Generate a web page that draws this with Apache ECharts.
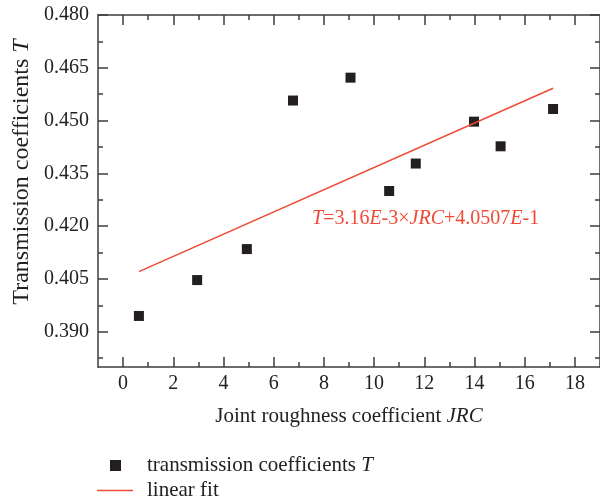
<!DOCTYPE html>
<html>
<head>
<meta charset="utf-8">
<script src="https://cdn.jsdelivr.net/npm/echarts@6/dist/echarts.min.js"></script>
<style>
  html, body { margin: 0; padding: 0; background: #fff; }
  #chart { width: 600px; height: 502px; }
</style>
</head>
<body>
<div id="chart"></div>
<script>
// measured points (JRC, T)
var jrc = [0.63, 2.95, 4.93, 6.77, 9.06, 10.6, 11.66, 13.98, 15.04, 17.13];
var trans = [0.3945, 0.4047, 0.4135, 0.4557, 0.4622, 0.4300, 0.4378, 0.4497, 0.4427, 0.4533];
// fit line end points
var fitX = [0.63, 17.13];
var fitY = [0.4071, 0.4592];

var xMajor = [0, 2, 4, 6, 8, 10, 12, 14, 16, 18];
var xMinor = [1, 3, 5, 7, 9, 11, 13, 15, 17];
var yMajor = [0.390, 0.405, 0.420, 0.435, 0.450, 0.465, 0.480];
var yMinor = [0.3825, 0.3975, 0.4125, 0.4275, 0.4425, 0.4575, 0.4725];

var font = 'Liberation Serif';
var fs = 20;
var axisColor = '#3d3d3d';
var red = '#ee4a35';

var element = document.getElementById('chart');
var myChart = echarts.init(element);

function xAxis(pos, ticks, len, labels, line) {
    return {
        type: 'value', position: pos, min: -1, max: 19,
        axisLine: { show: line, onZero: false, lineStyle: { color: axisColor, width: 1.5 } },
        axisTick: { show: true, inside: true, length: len, customValues: ticks,
            lineStyle: { color: axisColor, width: 1.5 } },
        axisLabel: labels ? {
            customValues: ticks, margin: 7, color: '#222',
            fontFamily: font, fontSize: fs
        } : { show: false },
        splitLine: { show: false }
    };
}

function yAxis(pos, ticks, len, labels, line) {
    return {
        type: 'value', position: pos, min: 0.38, max: 0.48,
        axisLine: { show: line, onZero: false, lineStyle: { color: axisColor, width: 1.5 } },
        axisTick: { show: true, inside: true, length: len, customValues: ticks,
            lineStyle: { color: axisColor, width: 1.5 } },
        axisLabel: labels ? {
            customValues: ticks, margin: 9, color: '#222',
            fontFamily: font, fontSize: fs,
            formatter: function (v) { return v.toFixed(3); }
        } : { show: false },
        splitLine: { show: false }
    };
}

var rich = {
    n: { fontFamily: font, fontSize: 21, color: '#222' },
    i: { fontFamily: font, fontSize: 21, color: '#222', fontStyle: 'italic' }
};

var xb = xAxis('bottom', xMajor, 10, true, true);
xb.name = '{n|Joint roughness coefficient }{i|JRC}';
xb.nameLocation = 'middle';
xb.nameGap = 39;
xb.nameTextStyle = { rich: rich };

var option = {
    animation: false,
    backgroundColor: '#fff',
    grid: { left: 98, top: 15, right: -2, bottom: 135 },
    xAxis: [
        xb,
        xAxis('bottom', xMinor, 5, false, false),
        xAxis('top', xMajor, 10, false, true),
        xAxis('top', xMinor, 5, false, false)
    ],
    yAxis: [
        yAxis('left', yMajor, 10, true, true),
        yAxis('left', yMinor, 5, false, false),
        yAxis('right', yMajor, 10, false, true),
        yAxis('right', yMinor, 5, false, false)
    ],
    legend: [
        {
            orient: 'vertical', left: 110, top: 455, padding: 0,
            itemWidth: 11, itemHeight: 11,
            data: [{ name: 'transmission coefficients T', icon: 'rect' }],
            itemStyle: { color: '#231f20' },
            formatter: function () { return '{n|transmission coefficients }{i|T}'; },
            textStyle: { padding: [0, 0, 0, 21], rich: rich }
        },
        {
            orient: 'vertical', left: 97, top: 480, padding: 0,
            itemWidth: 36, itemHeight: 1.5,
            data: [{ name: 'linear fit', icon: 'rect' }],
            itemStyle: { color: red },
            textStyle: { fontFamily: font, fontSize: 21, color: '#222', padding: [0, 0, 0, 9] }
        }
    ],
    graphic: [
        {
            type: 'text', x: 22, y: 172, rotation: Math.PI / 2,
            style: {
                text: '{n|Transmission coefficients }{i|T}',
                align: 'center', verticalAlign: 'middle',
                rich: {
                    n: { fontFamily: font, fontSize: 24, fill: '#222' },
                    i: { fontFamily: font, fontSize: 24, fill: '#222', fontStyle: 'italic' }
                }
            }
        },
        {
            type: 'text', x: 312, y: 219,
            style: {
                text: '{i|T}{n|=3.16}{i|E}{n|-3×}{i|JRC}{n|+4.0507}{i|E}{n|-1}',
                align: 'left', verticalAlign: 'middle',
                rich: {
                    n: { fontFamily: font, fontSize: 20, fill: red },
                    i: { fontFamily: font, fontSize: 20, fill: red, fontStyle: 'italic' }
                }
            }
        }
    ],
    series: [
        {
            name: 'transmission coefficients T',
            type: 'scatter',
            symbol: 'rect',
            symbolSize: 10,
            itemStyle: { color: '#231f20', opacity: 1 },
            data: jrc.map(function (x, i) { return [x, trans[i]]; })
        },
        {
            name: 'linear fit',
            type: 'line',
            symbol: 'none',
            lineStyle: { color: red, width: 1.5 },
            itemStyle: { color: red },
            data: fitX.map(function (x, i) { return [x, fitY[i]]; })
        }
    ]
};

myChart.setOption(option);
</script>
</body>
</html>
